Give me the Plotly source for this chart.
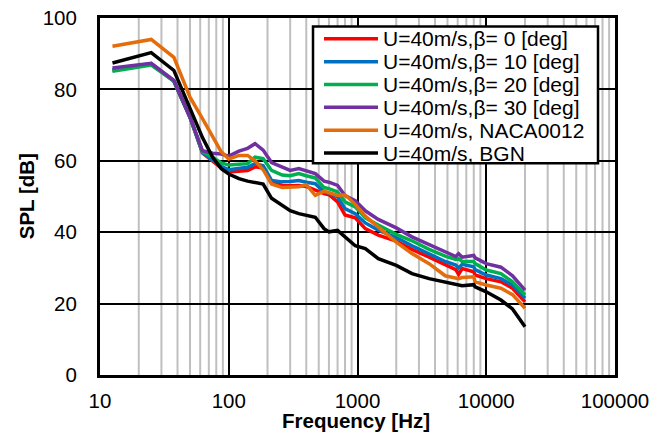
import plotly.graph_objects as go

# frequency points [Hz]
freq = [12.5, 25, 37.5, 50, 62.5, 75, 87.5, 100, 120, 140, 160, 185, 215, 260, 300,
        350, 400, 470, 550, 600, 700, 800, 960, 1150, 1450, 2000, 2650, 3600, 4800,
        5800, 6100, 6500, 8000, 8200, 10000, 13000, 16000, 20000]

# SPL [dB] for each case
spl_b0 = [85.3, 87.1, 82.3, 72.2, 62.2, 60.0, 58.0, 56.9, 57.0, 57.3, 58.3, 58.0, 54.0, 53.1, 53.0,
          53.1, 52.8, 51.7, 50.8, 50.5, 48.5, 44.8, 44.0, 41.0, 39.2, 37.5, 35.2, 33.0, 31.0,
          29.5, 28.2, 29.8, 28.9, 28.0, 27.0, 26.1, 24.3, 20.5]
spl_b10 = [85.5, 87.2, 82.3, 72.2, 62.3, 60.2, 58.4, 57.5, 57.8, 58.2, 59.2, 58.6, 54.5, 54.1, 54.2,
           54.5, 54.0, 53.6, 51.3, 51.0, 49.9, 46.6, 45.2, 42.6, 40.6, 38.5, 36.2, 34.0, 31.8,
           30.8, 30.0, 31.0, 30.3, 29.5, 28.0, 27.0, 25.2, 21.5]
spl_b20 = [85.1, 86.8, 82.3, 72.2, 62.5, 61.0, 59.4, 58.8, 59.0, 59.2, 61.0, 60.6, 57.3, 56.0, 55.8,
           56.4, 55.8, 55.2, 52.5, 52.2, 51.3, 48.5, 47.1, 44.0, 42.0, 39.4, 37.6, 35.2, 33.3,
           32.4, 32.6, 31.8, 31.8, 31.2, 29.4, 28.4, 26.1, 22.4]
spl_b30 = [86.0, 87.3, 82.5, 72.2, 62.8, 62.1, 61.9, 61.3, 62.7, 63.5, 64.8, 63.0, 59.5, 58.3, 57.3,
           57.8, 57.2, 56.4, 54.3, 54.0, 53.1, 50.3, 48.8, 46.0, 43.6, 41.2, 38.7, 36.5, 34.5,
           33.2, 34.0, 33.0, 33.5, 32.8, 31.2, 30.2, 27.8, 23.8]
spl_naca = [92.1, 94.0, 89.0, 77.8, 71.8, 66.5, 62.5, 60.5, 61.5, 61.5, 60.0, 57.5, 53.5, 52.5, 52.5,
            52.7, 53.3, 50.3, 51.5, 51.0, 50.3, 50.5, 47.8, 44.5, 41.5, 37.2, 34.0, 31.2, 27.8,
            27.0, 27.0, 27.3, 27.5, 26.1, 25.2, 24.3, 22.5, 18.7]
spl_bgn = [87.4, 90.3, 85.3, 74.5, 66.5, 61.0, 57.8, 56.3, 55.0, 54.3, 54.0, 53.5, 49.5, 47.5, 46.0,
           45.2, 44.8, 44.2, 41.0, 40.1, 40.5, 38.7, 36.2, 35.4, 32.6, 30.7, 28.4, 27.0, 26.1,
           25.5, 25.2, 25.0, 25.3, 24.7, 23.3, 21.0, 18.5, 13.5]

names = ["U=40m/s,β= 0 [deg]", "U=40m/s,β= 10 [deg]", "U=40m/s,β= 20 [deg]",
         "U=40m/s,β= 30 [deg]", "U=40m/s, NACA0012", "U=40m/s, BGN"]
colors = ["#FF0000", "#0070C0", "#00B050", "#7030A0", "#E46C0A", "#000000"]
series = [spl_b0, spl_b10, spl_b20, spl_b30, spl_naca, spl_bgn]

FONT = "Arial, Liberation Sans, sans-serif"

# page body has an 8px margin, so work in screen pixels and shift back
OFF = 8
L, R, T, B = 100 - OFF, 615 - OFF, 17.5 - OFF, 375 - OFF
W, H = 665 - OFF, 433 - OFF


def px(x):
    return (x - OFF - L) / (R - L)


def py(y):
    return (B - (y - OFF)) / (B - T)


fig = go.Figure()

for name, col, y in zip(names, colors, series):
    fig.add_trace(go.Scatter(x=freq, y=y, mode="lines", name=name,
                             line=dict(color=col, width=3.5)))

# minor log gridlines (grey) under the traces
shapes = []
for dec in [10, 100, 1000, 10000]:
    for k in range(2, 10):
        shapes.append(dict(type="line", xref="x", yref="paper", x0=k * dec, x1=k * dec,
                           y0=0, y1=1, line=dict(color="#BFBFBF", width=2), layer="below"))

# legend box drawn by hand (Excel style: long line samples, tight rows)
annotations = []
shapes.append(dict(type="rect", xref="paper", yref="paper",
                   x0=px(313), x1=px(598), y0=py(163), y1=py(26),
                   fillcolor="white", line=dict(color="black", width=2.5), layer="above"))
for i, (name, col) in enumerate(zip(names, colors)):
    yy = 38.3 + 22.9 * i
    shapes.append(dict(type="line", xref="paper", yref="paper",
                       x0=px(324), x1=px(378), y0=py(yy), y1=py(yy),
                       line=dict(color=col, width=3.5), layer="above"))
    annotations.append(dict(xref="paper", yref="paper", x=px(381), y=py(yy),
                            text=name, showarrow=False, xanchor="left", yanchor="middle",
                            font=dict(size=21)))

# axis titles
annotations.append(dict(xref="paper", yref="paper", x=px(356), y=py(421),
                        text="<b>Frequency [Hz]</b>", showarrow=False,
                        xanchor="center", yanchor="middle", font=dict(size=20.5)))
annotations.append(dict(xref="paper", yref="paper", x=px(26), y=py(196),
                        text="<b>SPL [dB]</b>", showarrow=False, textangle=-90,
                        xanchor="center", yanchor="middle", font=dict(size=20.5)))

fig.update_layout(
    width=W, height=H,
    margin=dict(l=L, r=W - R, t=T, b=H - B, autoexpand=False),
    paper_bgcolor="white", plot_bgcolor="white",
    font=dict(family=FONT, size=20.5, color="black"),
    shapes=shapes, annotations=annotations,
    showlegend=False,
    xaxis=dict(type="log", range=[1, 5],
               tickvals=[10, 100, 1000, 10000, 100000],
               ticktext=["10", "100", "1000", "10000", "100000"],
               showgrid=True, gridcolor="black", gridwidth=2,
               showline=True, linecolor="black", linewidth=3, mirror=True,
               ticks="", ticklabelstandoff=5, ticklabeloverflow="allow",
               automargin=False, zeroline=False),
    yaxis=dict(range=[0, 100], tickvals=[0, 20, 40, 60, 80, 100],
               showgrid=True, gridcolor="black", gridwidth=2,
               showline=True, linecolor="black", linewidth=3, mirror=True,
               ticks="", ticklabelstandoff=16, ticklabeloverflow="allow",
               automargin=False, zeroline=False),
)

fig.write_html("out.html")
